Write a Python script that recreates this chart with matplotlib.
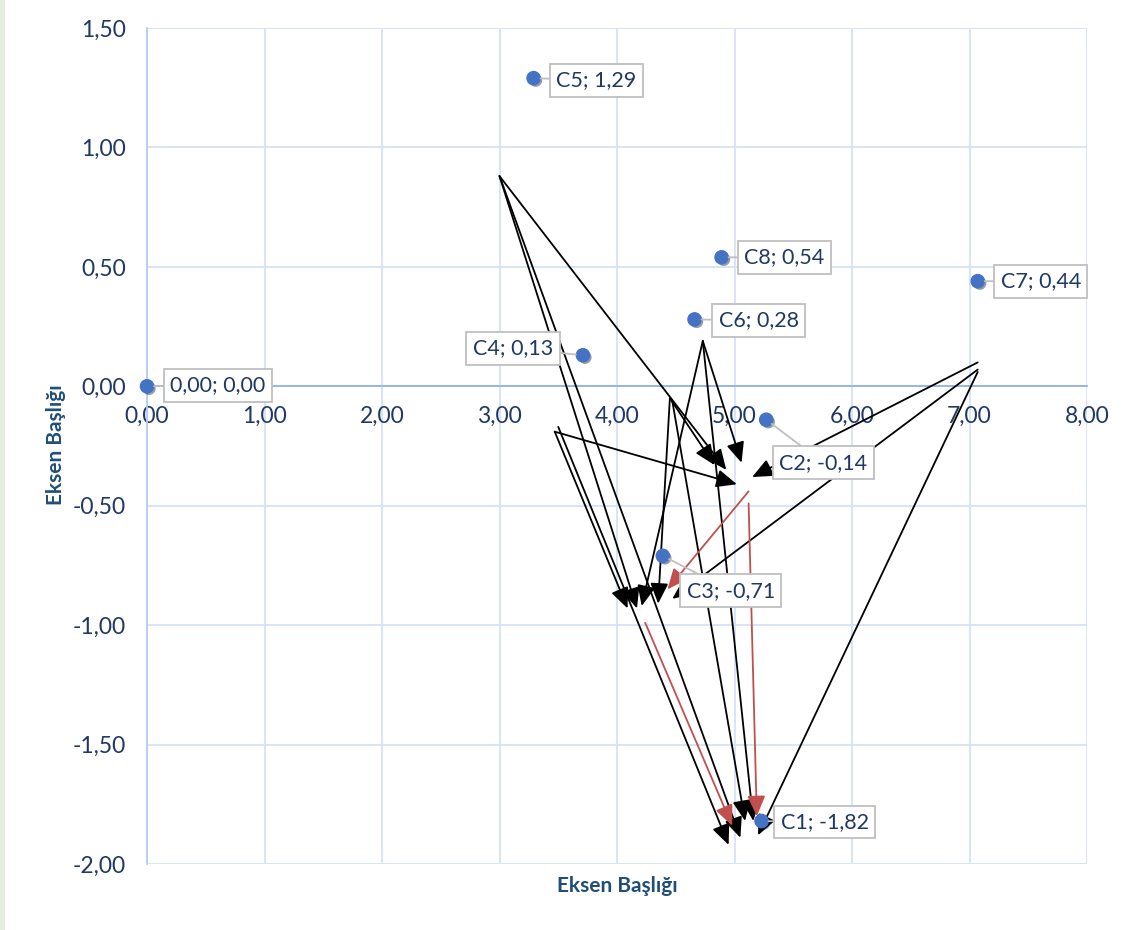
import matplotlib
matplotlib.use("Agg")
import matplotlib.pyplot as plt
import matplotlib.patheffects as pe
from matplotlib.patches import Rectangle
from matplotlib.ticker import FuncFormatter

# ---------------- data ----------------
point_names = ["0,00; 0,00", "C1", "C2", "C3", "C4", "C5", "C6", "C7", "C8"]
point_x = [0.00, 5.23, 5.27, 4.39, 3.71, 3.29, 4.66, 7.07, 4.89]
point_y = [0.00, -1.82, -0.14, -0.71, 0.13, 1.29, 0.28, 0.44, 0.54]

# arrows (start -> end), data coordinates
arrow_x0 = [3.00, 3.00, 3.00,
            3.47, 3.47, 3.50,
            4.73, 4.73, 4.73,
            4.45, 4.45, 4.47,
            7.07, 7.07, 7.07,
            5.12, 5.12, 4.24]
arrow_y0 = [0.88, 0.88, 0.88,
            -0.19, -0.19, -0.17,
            0.19, 0.19, 0.19,
            -0.05, -0.05, -0.06,
            0.10, 0.07, 0.06,
            -0.44, -0.49, -0.99]
arrow_x1 = [4.93, 4.17, 5.05,
            5.02, 4.09, 4.95,
            5.06, 4.21, 5.16,
            4.83, 4.35, 5.09,
            5.15, 4.47, 5.20,
            4.43, 5.19, 4.98]
arrow_y1 = [-0.35, -0.93, -1.89,
            -0.41, -0.93, -1.92,
            -0.32, -0.92, -1.82,
            -0.33, -0.91, -1.82,
            -0.38, -0.89, -1.88,
            -0.85, -1.80, -1.84]
arrow_kind = ["k"] * 15 + ["r"] * 3

x_ticks = [0, 1, 2, 3, 4, 5, 6, 7, 8]
y_ticks = [-2.0, -1.5, -1.0, -0.5, 0.0, 0.5, 1.0, 1.5]
axis_title = "Eksen Başlığı"

# label box centre offsets from point, in pixels (right, down)
label_offsets = {
    "0,00; 0,00": (71, -1),
    "C1": (63, 1),
    "C2": (57, 43),
    "C3": (68, 35),
    "C4": (-70, -7),
    "C5": (63, 2),
    "C6": (64, 1),
    "C7": (63, 0),
    "C8": (63, 0),
}

# ---------------- style ----------------
plt.rcParams["font.family"] = ["Lato", "DejaVu Sans"]
TXT = "#1f3864"
TITLE = "#1f4e79"
GRID = "#d6e3f6"
AXIS = "#8fb4e3"
MARK = "#4472c4"

W, H, DPI = 1132, 930, 100
fig = plt.figure(figsize=(W / DPI, H / DPI), dpi=DPI)
fig.patches.append(Rectangle((0, 0), 5 / W, 1, transform=fig.transFigure,
                             facecolor="#e3efdb", edgecolor="none", zorder=0))
ax = fig.add_axes([147 / W, 1 - 864 / H, (1087 - 147) / W, (864 - 28) / H])

ax.set_xlim(0, 8)
ax.set_ylim(-2, 1.5)
ax.set_xticks(x_ticks)
ax.set_yticks(y_ticks)
fmt = FuncFormatter(lambda v, p: f"{v:.2f}".replace(".", ","))
ax.xaxis.set_major_formatter(fmt)
ax.yaxis.set_major_formatter(fmt)
ax.grid(True, color=GRID, lw=1.3, zorder=0)
ax.set_axisbelow(True)
for s in ["top", "right"]:
    ax.spines[s].set_visible(False)
ax.spines["bottom"].set_position(("data", 0))
ax.spines["bottom"].set_color(AXIS)
ax.spines["bottom"].set_linewidth(1.3)
ax.spines["left"].set_color("#b4cbee")
ax.spines["left"].set_linewidth(1.3)
ax.tick_params(axis="both", length=0, labelsize=16.5, labelcolor=TXT)
ax.tick_params(axis="x", pad=14)
ax.tick_params(axis="y", pad=15)

fig.text(617 / W, 1 - 886 / H, axis_title, ha="center", va="center",
         fontsize=15, fontweight="bold", color=TITLE)
fig.text(56 / W, 1 - 445 / H, axis_title, ha="center", va="center",
         rotation=90, fontsize=15, fontweight="bold", color=TITLE)

# arrows
for x0, y0, x1, y1, k in zip(arrow_x0, arrow_y0, arrow_x1, arrow_y1, arrow_kind):
    col = "#000000" if k == "k" else "#c0504d"
    ax.annotate("", xy=(x1, y1), xytext=(x0, y0),
                arrowprops=dict(arrowstyle="-|>,head_length=1.25,head_width=0.55",
                                mutation_scale=10, color=col, lw=1.3,
                                shrinkA=0, shrinkB=0),
                zorder=4)

# points
ax.plot(point_x, point_y, ls="none", marker="o", ms=9.5, color=MARK,
        mec=MARK, zorder=5, clip_on=False,
        path_effects=[pe.SimplePatchShadow(offset=(1.5, -1.5), alpha=0.45),
                      pe.Normal()])

# labels
px_to_pt = 72 / DPI
for name, x, y in zip(point_names, point_x, point_y):
    if name.startswith("C"):
        txt = f"{name}; {y:.2f}".replace(".", ",")
    else:
        txt = name
    dx, dy = label_offsets[name]
    ax.annotate(txt, xy=(x, y), xytext=(dx * px_to_pt, -dy * px_to_pt),
                textcoords="offset points", ha="center", va="center",
                fontsize=15.5, color=TXT, zorder=6, annotation_clip=False,
                bbox=dict(boxstyle="square,pad=0.3", fc="white",
                          ec="#bfbfbf", lw=1.3),
                arrowprops=dict(arrowstyle="-", color="#bfbfbf", lw=1.3,
                                shrinkA=0, shrinkB=5))

fig.savefig("out.png", dpi=DPI)
